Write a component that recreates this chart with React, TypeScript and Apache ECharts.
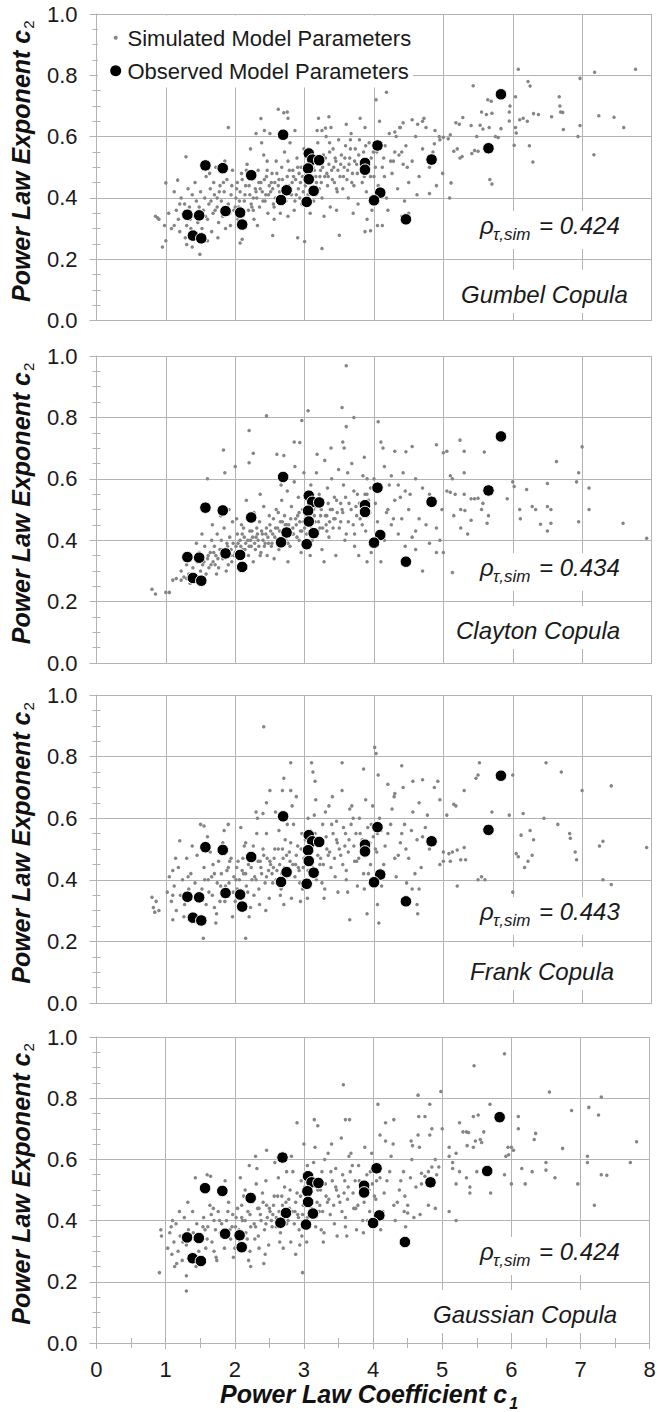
import React, { useEffect, useRef } from 'react';
import * as echarts from 'echarts';

// ---------------- DATA ----------------
const observed: number[][] = [
  [1.31,.345],[1.48,.343],[1.39,.277],[1.51,.268],[1.57,.506],[1.82,.497],[1.86,.357],[2.07,.352],[2.10,.313],[2.23,.474],
  [2.69,.606],[2.74,.425],[2.66,.393],[3.06,.545],[3.11,.525],[3.21,.523],[3.05,.496],[3.06,.461],[3.13,.423],[3.03,.387],
  [4.05,.571],[3.87,.514],[3.87,.492],[4.09,.417],[4.00,.392],[4.46,.330],[4.83,.525],[5.65,.562],[5.83,.738]
];

const simGumbel: number[][] = [
  [6.08,.82],[7.18,.81],[7.77,.82],[6.97,.79],[6.22,.78],[6.25,.765],[5.43,.766],[6.67,.73],[6.68,.70],[6.69,.68],[6.04,.73],[5.64,.72],[5.69,.715],[5.96,.70],[5.95,.68],[4.18,.745],[4.03,.72],[5.55,.68],[5.62,.672],[5.7,.676],[7.24,.668],[7.46,.663],[7.6,.63],[6.3,.675],[6.37,.672],[6.56,.665],[6.72,.679],[6.97,.636],[6.94,.60],[6.73,.623],[7.17,.541],[6.29,.517],[6.24,.57],[6.02,.572],[6.04,.63],[6.05,.612],[6.1,.655],[6.15,.66],[6.21,.65],[5.95,.651],[5.83,.626],[5.28,.662],[5.4,.636],[5.53,.637],[5.18,.645],[5.23,.64],[5.57,.625],[5.66,.63],[5.48,.60],[5.79,.597],[5.75,.60],[5.67,.46],[5.7,.445],[5.45,.555],[5.5,.552],[5.41,.545],[5.2,.56],[5.15,.552],[5.27,.535],[5.24,.53],[5.09,.40],[5.11,.449],[4.99,.48],[4.8,.414],[4.87,.577],[4.94,.60],[5.0,.598],[5.07,.593],[5.1,.606],[4.55,.655],[4.63,.64],[4.7,.65],[4.42,.645],[4.37,.63],[4.3,.615],
  [1.0,.449],[1.17,.458],[1.29,.534],[1.9,.63],[0.85,.34],[0.88,.335],[0.9,.33],[0.95,.24],[1.0,.26],[1.49,.216],[1.38,.24],[1.3,.248],[1.6,.26],[2.07,.253],[2.1,.265],[2.54,.277],[2.9,.27],[3.0,.258],[3.25,.235],[2.62,.689],[2.7,.678],[2.75,.68],[2.76,.66],[2.37,.659],[2.5,.61],[2.3,.61],[2.42,.62],[3.2,.66],[3.35,.665],[3.25,.62],[3.3,.628],[3.5,.278],[3.87,.29],[3.95,.293],[4.05,.31],[4.12,.31],[4.4,.34],[4.5,.35],[1.04,.35],[1.08,.30],[0.98,.31],
  [1.12,.31],[1.15,.36],[1.18,.33],[1.2,.29],[1.22,.40],[1.25,.35],[1.27,.38],[1.3,.31],[1.32,.43],[1.34,.37],[1.36,.30],[1.38,.41],[1.4,.34],[1.42,.45],[1.44,.39],[1.46,.32],[1.48,.37],[1.5,.42],[1.12,.42],[1.2,.38],[1.28,.27],[1.35,.33],
  [1.52,.30],[1.54,.36],[1.56,.40],[1.58,.47],[1.6,.33],[1.62,.38],[1.64,.43],[1.66,.29],[1.68,.35],[1.7,.41],[1.72,.50],[1.74,.37],[1.76,.32],[1.78,.44],[1.8,.39],[1.82,.34],[1.84,.42],[1.86,.30],[1.88,.46],[1.9,.38],[1.92,.35],[1.94,.41],[1.96,.49],[1.98,.36],[1.63,.48],[1.75,.27],[1.85,.52],[1.69,.45],[1.57,.34],[1.93,.31],
  [2.01,.40],[2.03,.45],[2.05,.37],[2.07,.42],[2.09,.48],[2.11,.34],[2.13,.39],[2.15,.44],[2.17,.51],[2.19,.36],[2.21,.41],[2.23,.38],[2.25,.46],[2.27,.33],[2.29,.43],[2.31,.40],[2.33,.49],[2.35,.37],[2.37,.45],[2.39,.42],[2.41,.54],[2.43,.39],[2.45,.47],[2.47,.35],[2.49,.44],[2.12,.30],[2.22,.56],[2.32,.31],[2.38,.58],[2.46,.52],[2.04,.33],[2.26,.40],[2.36,.43],[2.44,.41],[2.18,.47],
  [2.51,.42],[2.53,.48],[2.55,.38],[2.57,.45],[2.59,.52],[2.61,.40],[2.63,.46],[2.65,.35],[2.67,.50],[2.69,.43],[2.71,.55],[2.73,.39],[2.75,.47],[2.77,.44],[2.79,.58],[2.81,.41],[2.83,.49],[2.85,.36],[2.87,.46],[2.89,.53],[2.91,.43],[2.93,.40],[2.95,.50],[2.97,.47],[2.99,.56],[2.56,.33],[2.66,.60],[2.76,.34],[2.86,.62],[2.96,.38],[2.62,.44],[2.72,.42],[2.82,.45],[2.92,.48],
  [3.01,.44],[3.03,.51],[3.05,.41],[3.07,.48],[3.09,.55],[3.11,.46],[3.13,.39],[3.15,.52],[3.17,.45],[3.19,.58],[3.21,.43],[3.23,.49],[3.25,.40],[3.27,.54],[3.29,.47],[3.31,.60],[3.33,.44],[3.35,.51],[3.37,.37],[3.39,.49],[3.41,.56],[3.43,.45],[3.45,.52],[3.47,.42],[3.49,.59],[3.08,.35],[3.18,.62],[3.28,.34],[3.38,.63],[3.46,.36],[3.12,.50],[3.22,.47],[3.32,.48],[3.42,.50],
  [3.51,.47],[3.53,.54],[3.55,.43],[3.57,.50],[3.59,.57],[3.61,.46],[3.63,.40],[3.65,.53],[3.67,.61],[3.69,.48],[3.71,.44],[3.73,.56],[3.75,.51],[3.77,.38],[3.79,.59],[3.81,.49],[3.83,.45],[3.85,.55],[3.87,.63],[3.89,.42],[3.91,.52],[3.93,.58],[3.95,.47],[3.97,.36],[3.99,.55],[3.6,.64],[3.7,.35],[3.8,.66],[3.9,.33],[3.64,.51],
  [4.02,.50],[4.06,.44],[4.1,.58],[4.14,.53],[4.18,.40],[4.22,.61],[4.26,.48],[4.3,.55],[4.34,.43],[4.38,.63],[4.42,.51],[4.46,.57],[4.5,.45],[4.08,.65],[4.2,.36],[4.32,.60],[4.44,.39],[4.15,.47],[4.28,.52],[4.4,.55],
  [4.55,.52],[4.6,.60],[4.65,.47],[4.7,.56],[4.75,.63],[4.8,.50],[4.85,.55],[4.9,.44],[4.95,.59],[4.62,.41],[4.72,.66],[4.88,.62],
  [1.65,.39],[1.71,.36],[1.77,.42],[1.83,.45],[1.89,.35],[1.95,.44],[2.02,.43],[2.06,.39],[2.1,.46],[2.14,.41],[2.2,.44],[2.24,.37],[2.28,.47],[2.3,.42],[2.34,.45],[2.4,.39],[2.42,.46],[2.48,.41],[2.52,.45],[2.54,.43],[2.58,.40],[2.6,.48],[2.64,.42],[2.68,.46],[2.7,.40],[2.74,.44],[2.78,.49],[2.8,.43],[2.84,.47],[2.88,.41],[2.9,.50],[2.94,.45],[2.98,.42],[3.02,.48],[3.04,.45],[3.06,.52],[3.1,.43],[3.14,.49],[3.16,.47],[3.2,.51],[3.24,.45],[3.26,.50],[3.3,.53],[3.34,.47],[3.36,.55],[3.4,.46],[3.44,.53],[3.48,.49],[3.52,.51],[3.56,.47],[3.58,.53],[3.62,.49],[3.66,.56],[3.68,.45],[3.72,.52],[3.76,.48],[3.78,.54],[3.82,.52],[3.86,.47],[3.88,.57],[3.92,.50],[3.96,.53],[4.0,.47],[4.04,.55],[4.12,.50],[4.16,.57],[4.24,.52],[4.36,.54],[4.48,.50],[2.26,.36],[2.56,.37],[2.86,.39],[3.16,.41],[3.46,.43],[1.74,.40],[2.0,.37],[2.16,.49],[2.46,.49],[2.76,.52],[3.06,.56],[3.36,.58],[3.66,.59]
];

const simClayton: number[][] = [
  [0.80,.24],[0.85,.225],[1.0,.23],[1.05,.23],[1.1,.27],[1.15,.275],[1.22,.27],[1.3,.275],[2.45,.805],[2.96,.79],[3.05,.822],[2.2,.757],[1.83,.694],[2.26,.683],[2.2,.652],[2.0,.64],[1.85,.62],[1.6,.60],[2.85,.72],[2.93,.718],[2.6,.68],[2.7,.676],
  [3.6,.968],[3.54,.832],[3.71,.80],[3.6,.77],[4.06,.786],[3.55,.72],[3.57,.70],[4.1,.72],[4.13,.70],[4.3,.69],[4.46,.688],[4.55,.705],[4.9,.711],[5.24,.726],[5.0,.685],[5.05,.69],[5.3,.69],[5.59,.687],[7.0,.704],[6.63,.656],[6.95,.62],[6.92,.59],[6.5,.585],[6.2,.565],[7.1,.57],[7.1,.50],[6.95,.46],[6.55,.455],[6.4,.452],[6.5,.43],[7.59,.455],[7.93,.406],[6.1,.50],[6.11,.47],[6.0,.59],[6.02,.575],[5.92,.535],[6.28,.51],[6.33,.50],[6.5,.51],[6.55,.50],[5.63,.455],[5.65,.48],[5.55,.50],[5.57,.52],[5.4,.535],[5.45,.535],[5.5,.537],[5.3,.62],[5.1,.61],[5.13,.60],[5.05,.56],[5.1,.556],[5.17,.55],[5.3,.55],[5.25,.50],[5.31,.497],[5.4,.465],[5.13,.295],[5.0,.36],[4.9,.36],[4.7,.30],[4.6,.37],[4.1,.33],[3.9,.33],
  [3.9,.55],[4.0,.6],[4.15,.64],[4.25,.61],[4.35,.58],[4.45,.56],[4.6,.6],[4.7,.57],[4.8,.55],[4.85,.52],[4.2,.5],[4.3,.53],[4.4,.47],[4.5,.5],[4.65,.47],[4.75,.45],[4.9,.44],[4.95,.4],[4.35,.42],[4.55,.41],[4.25,.45],[4.05,.46],[4.15,.4],[4.45,.38],[4.6,.43],[4.8,.39],[4.98,.5],[5.15,.48],[5.25,.44],[5.35,.42],
  [1.22,.30],[1.26,.28],[1.3,.32],[1.33,.29],[1.36,.34],[1.39,.31],[1.42,.27],[1.45,.33],[1.48,.36],[1.5,.30],[1.53,.32],[1.56,.38],[1.58,.29],[1.6,.34],[1.35,.26],[1.44,.39],[1.28,.35],[1.52,.42],
  [1.62,.31],[1.64,.36],[1.66,.40],[1.68,.33],[1.7,.38],[1.72,.35],[1.74,.42],[1.76,.31],[1.78,.37],[1.8,.40],[1.82,.34],[1.84,.44],[1.86,.36],[1.88,.39],[1.9,.32],[1.92,.41],[1.94,.37],[1.96,.46],[1.98,.35],[1.67,.45],[1.79,.48],[1.91,.50],[1.73,.29],[1.87,.30],
  [2.01,.38],[2.03,.42],[2.05,.36],[2.07,.40],[2.09,.45],[2.11,.37],[2.13,.41],[2.15,.39],[2.17,.47],[2.19,.35],[2.21,.43],[2.23,.38],[2.25,.41],[2.27,.49],[2.29,.37],[2.31,.44],[2.33,.40],[2.35,.46],[2.37,.36],[2.39,.42],[2.41,.51],[2.43,.39],[2.45,.44],[2.47,.41],[2.49,.48],[2.06,.32],[2.16,.53],[2.26,.33],[2.36,.55],[2.46,.35],[2.12,.44],[2.22,.40],[2.32,.42],[2.42,.38],[2.02,.47],
  [2.51,.43],[2.53,.39],[2.55,.47],[2.57,.41],[2.59,.50],[2.61,.44],[2.63,.37],[2.65,.46],[2.67,.53],[2.69,.42],[2.71,.48],[2.73,.40],[2.75,.56],[2.77,.45],[2.79,.38],[2.81,.51],[2.83,.44],[2.85,.59],[2.87,.47],[2.89,.41],[2.91,.54],[2.93,.46],[2.95,.36],[2.97,.50],[2.99,.62],[2.56,.34],[2.66,.58],[2.76,.33],[2.86,.64],[2.96,.43],[2.62,.49],[2.72,.45],[2.82,.42],[2.92,.49],
  [3.01,.47],[3.03,.42],[3.05,.53],[3.07,.45],[3.09,.58],[3.11,.40],[3.13,.50],[3.15,.46],[3.17,.62],[3.19,.43],[3.21,.55],[3.23,.48],[3.25,.37],[3.27,.52],[3.29,.66],[3.31,.45],[3.33,.57],[3.35,.41],[3.37,.50],[3.39,.60],[3.41,.44],[3.43,.54],[3.45,.35],[3.47,.49],[3.49,.63],[3.08,.35],[3.18,.68],[3.28,.33],[3.38,.70],[3.12,.52],[3.22,.44],[3.32,.48],[3.42,.47],
  [3.52,.46],[3.56,.58],[3.6,.42],[3.64,.52],[3.68,.65],[3.72,.38],[3.76,.55],[3.8,.47],[3.84,.61],[3.88,.43],[3.92,.53],[3.96,.36],[3.54,.50],[3.62,.62],[3.7,.45],[3.78,.35],[3.86,.67],[3.94,.49],[3.58,.40],[3.74,.51],
  [1.55,.33],[1.61,.35],[1.65,.32],[1.69,.36],[1.75,.34],[1.81,.37],[1.85,.35],[1.89,.38],[1.93,.35],[1.97,.39],[2.0,.36],[2.04,.39],[2.08,.38],[2.1,.42],[2.14,.37],[2.18,.40],[2.2,.38],[2.24,.43],[2.28,.39],[2.3,.41],[2.34,.38],[2.38,.43],[2.4,.40],[2.44,.42],[2.48,.39],[2.5,.45],[2.54,.42],[2.58,.44],[2.6,.40],[2.64,.43],[2.68,.46],[2.7,.41],[2.74,.45],[2.78,.43],[2.8,.47],[2.84,.42],[2.88,.45],[2.9,.48],[2.94,.43],[2.98,.46],[3.0,.44],[3.04,.49],[3.06,.46],[3.1,.44],[3.14,.48],[3.16,.51],[3.2,.46],[3.24,.50],[3.26,.44],[3.3,.48],[3.34,.52],[3.36,.46],[3.4,.50],[3.44,.47],[3.46,.53],[3.5,.44],[3.55,.49],[3.59,.54],[3.63,.46],[3.67,.50],[3.71,.56],[3.75,.48],[3.79,.52],[3.83,.45],[3.87,.55],[3.91,.48],[3.95,.57],[1.71,.32],[1.95,.33],[2.12,.35],[2.36,.35],[2.52,.38],[2.76,.39],[2.92,.40],[3.12,.42],[3.32,.43],[3.52,.52],[3.72,.42],[3.9,.60],[4.02,.52],[4.08,.56],[4.18,.49],[4.22,.58],[4.28,.47],[4.38,.54],[4.42,.62],[4.52,.55]
];

const simFrank: number[][] = [
  [0.8,.343],[0.82,.31],[0.86,.33],[0.9,.30],[0.84,.295],[1.1,.27],[1.2,.527],[1.5,.58],[1.55,.575],[1.1,.43],[1.54,.21],[2.15,.21],[2.41,.897],[2.8,.78],[3.1,.78],[3.12,.75],[3.15,.72],[2.7,.73],[2.68,.69],[2.5,.69],[2.45,.65],[2.8,.69],[2.88,.67],[2.3,.62],[2.4,.615],[1.9,.58],
  [4.01,.83],[4.03,.81],[3.54,.78],[5.52,.78],[6.48,.78],[6.7,.75],[7.42,.705],[7.0,.69],[4.4,.77],[3.85,.76],[4.06,.74],[4.2,.71],[4.3,.68],[4.42,.70],[4.56,.72],[4.7,.725],[4.92,.72],[4.87,.70],[4.95,.66],[5.05,.61],[5.15,.645],[5.18,.64],[5.3,.69],[5.5,.74],[5.47,.73],[6.0,.74],[5.7,.62],[5.95,.61],[6.15,.615],[6.45,.60],[6.65,.58],[6.82,.55],[6.83,.535],[6.25,.56],[6.3,.53],[6.12,.545],[6.05,.485],[6.08,.475],[6.17,.44],[6.22,.46],[6.28,.48],[6.9,.49],[6.92,.465],[7.25,.51],[7.3,.525],[7.3,.40],[7.42,.385],[7.93,.505],[6.0,.36],[5.5,.40],[5.55,.41],[5.6,.40],[5.2,.38],[5.0,.49],[5.08,.485],[5.13,.49],[5.2,.497],[5.3,.505],[4.95,.45],[5.0,.46],[5.1,.46],[5.25,.465],[5.32,.465],[4.65,.37],[4.55,.37],[4.52,.33],[4.62,.32],[4.63,.29],[4.07,.26],[3.9,.29],[3.65,.27],[4.05,.32],
  [1.02,.36],[1.05,.41],[1.08,.33],[1.12,.38],[1.15,.30],[1.18,.44],[1.21,.35],[1.24,.40],[1.27,.32],[1.3,.47],[1.33,.37],[1.36,.42],[1.39,.29],[1.42,.39],[1.45,.48],[1.48,.34],[1.14,.47],[1.26,.28],[1.38,.51],[1.46,.26],[1.1,.35],[1.32,.41],
  [1.52,.37],[1.55,.44],[1.58,.32],[1.61,.40],[1.64,.49],[1.67,.35],[1.7,.42],[1.73,.29],[1.76,.46],[1.79,.38],[1.82,.52],[1.85,.33],[1.88,.43],[1.91,.39],[1.94,.47],[1.97,.36],[1.6,.54],[1.72,.26],[1.84,.56],[1.96,.28],[1.66,.41],[1.78,.33],[1.9,.44],
  [2.01,.40],[2.04,.46],[2.07,.35],[2.1,.43],[2.13,.51],[2.16,.38],[2.19,.45],[2.22,.31],[2.25,.48],[2.28,.41],[2.31,.55],[2.34,.37],[2.37,.44],[2.4,.50],[2.43,.39],[2.46,.47],[2.49,.34],[2.08,.57],[2.2,.28],[2.32,.60],[2.44,.30],[2.12,.42],[2.24,.40],[2.36,.46],[2.48,.43],[2.03,.37],[2.27,.35],
  [2.51,.45],[2.54,.39],[2.57,.50],[2.6,.43],[2.63,.56],[2.66,.37],[2.69,.47],[2.72,.53],[2.75,.41],[2.78,.49],[2.81,.34],[2.84,.58],[2.87,.45],[2.9,.51],[2.93,.39],[2.96,.55],[2.99,.47],[2.58,.62],[2.7,.32],[2.82,.64],[2.94,.33],[2.55,.44],[2.67,.42],[2.79,.46],[2.91,.44],[2.62,.50],[2.86,.41],
  [3.02,.49],[3.05,.43],[3.08,.56],[3.11,.46],[3.14,.61],[3.17,.40],[3.2,.52],[3.23,.47],[3.26,.58],[3.29,.37],[3.32,.50],[3.35,.64],[3.38,.44],[3.41,.55],[3.44,.41],[3.47,.52],[3.04,.34],[3.16,.66],[3.28,.34],[3.4,.67],[3.48,.36],[3.1,.51],[3.22,.45],[3.34,.48],[3.46,.59],
  [3.52,.48],[3.56,.57],[3.6,.43],[3.64,.53],[3.68,.64],[3.72,.46],[3.76,.38],[3.8,.55],[3.84,.50],[3.88,.66],[3.92,.42],[3.96,.58],[3.54,.69],[3.62,.36],[3.7,.60],[3.78,.47],[3.86,.37],[3.94,.52],[3.58,.51],[3.74,.55],
  [4.02,.50],[4.08,.60],[4.14,.45],[4.2,.55],[4.26,.63],[4.32,.41],[4.38,.52],[4.44,.58],[4.5,.47],[4.56,.62],[4.62,.53],[4.68,.44],[4.74,.57],[4.8,.50],[4.11,.38],[4.29,.67],[4.47,.39],[4.65,.65],[4.05,.55],[4.35,.48],[4.59,.42],[4.77,.61],
  [1.56,.40],[1.62,.36],[1.68,.45],[1.74,.39],[1.8,.42],[1.86,.38],[1.92,.46],[1.98,.41],[2.02,.44],[2.06,.40],[2.11,.47],[2.15,.42],[2.18,.36],[2.23,.44],[2.26,.51],[2.3,.40],[2.33,.46],[2.38,.42],[2.41,.48],[2.45,.41],[2.5,.46],[2.53,.42],[2.56,.47],[2.59,.40],[2.64,.45],[2.68,.50],[2.71,.44],[2.74,.48],[2.77,.42],[2.8,.52],[2.83,.45],[2.88,.48],[2.92,.43],[2.95,.50],[2.98,.44],[3.01,.53],[3.04,.47],[3.07,.50],[3.12,.44],[3.15,.55],[3.19,.48],[3.24,.52],[3.27,.45],[3.31,.54],[3.36,.49],[3.39,.58],[3.43,.47],[3.46,.53],[3.5,.50],[3.55,.45],[3.59,.55],[3.63,.49],[3.67,.58],[3.71,.51],[3.75,.46],[3.79,.60],[3.83,.53],[3.87,.48],[3.91,.57],[3.95,.45],[3.99,.54],[4.04,.49],[4.1,.56],[4.16,.51],[4.24,.58],[4.3,.47],[4.4,.55],[4.46,.50],[4.54,.56],[4.7,.54],[1.7,.31],[2.0,.33],[2.35,.32],[2.65,.35],[2.97,.37],[3.25,.39],[3.6,.40],[3.85,.42],[2.15,.52],[2.45,.55],[2.75,.58],[3.05,.60],[3.3,.62],[3.65,.63],[3.98,.64]
];

const simGaussian: number[][] = [
  [0.91,.23],[0.93,.37],[0.94,.35],[1.3,.17],[1.13,.25],[1.3,.22],[1.08,.38],[1.2,.43],[1.43,.54],[1.6,.55],[1.65,.545],[2.21,.58],[2.3,.61],[2.46,.63],[2.9,.72],[3.0,.65],[3.15,.73],[3.2,.71],[2.98,.23],[2.42,.26],[2.23,.25],[2.88,.29],
  [5.9,.945],[5.46,.906],[3.57,.844],[4.98,.822],[4.65,.81],[6.55,.82],[7.3,.804],[4.07,.78],[4.82,.78],[5.69,.78],[6.87,.76],[7.12,.77],[7.26,.745],[7.81,.658],[6.1,.74],[6.1,.70],[6.35,.685],[6.33,.665],[6.74,.636],[7.1,.61],[7.1,.59],[7.72,.59],[7.3,.55],[7.38,.548],[6.96,.52],[7.2,.45],[6.63,.54],[6.5,.59],[6.5,.565],[6.3,.56],[6.2,.52],[6.15,.57],[6.0,.52],[5.9,.55],[5.92,.61],[5.96,.615],[6.03,.63],[6.0,.64],[5.95,.64],[5.25,.72],[5.45,.74],[5.52,.745],[5.3,.69],[5.35,.69],[5.38,.688],[5.6,.69],[5.55,.665],[5.57,.655],[5.48,.66],[5.36,.645],[5.45,.64],[5.0,.70],[4.85,.70],[4.82,.68],[4.75,.74],[4.66,.74],[4.65,.68],[4.67,.64],[4.55,.66],[4.57,.645],[4.3,.73],[4.18,.72],[4.1,.68],[4.18,.66],[3.6,.73],[3.66,.73],[5.1,.64],[5.1,.61],[5.2,.62],[5.15,.59],[5.15,.57],[5.25,.56],[5.2,.52],[5.4,.51],[5.4,.49],[5.35,.54],[5.5,.56],[5.7,.49],[5.1,.43],[5.2,.40],[4.9,.44],[4.8,.45],[4.92,.55],[4.95,.575],[4.9,.6],[4.7,.555],[4.75,.545],[4.8,.56],[4.85,.575],[4.45,.43],[4.5,.425],
  [1.03,.31],[1.06,.36],[1.09,.29],[1.12,.33],[1.15,.39],[1.18,.30],[1.21,.35],[1.24,.27],[1.27,.41],[1.3,.32],[1.33,.37],[1.36,.28],[1.39,.43],[1.42,.34],[1.45,.39],[1.48,.30],[1.16,.26],[1.32,.46],[1.44,.25],[1.1,.40],[1.25,.33],[1.4,.36],
  [1.52,.35],[1.55,.41],[1.58,.31],[1.61,.38],[1.64,.45],[1.67,.33],[1.7,.40],[1.73,.28],[1.76,.43],[1.79,.36],[1.82,.49],[1.85,.31],[1.88,.40],[1.91,.46],[1.94,.34],[1.97,.42],[1.62,.51],[1.74,.27],[1.86,.53],[1.98,.28],[1.57,.37],[1.69,.44],[1.81,.39],[1.93,.37],
  [2.01,.38],[2.04,.44],[2.07,.33],[2.1,.41],[2.13,.48],[2.16,.36],[2.19,.43],[2.22,.30],[2.25,.46],[2.28,.39],[2.31,.52],[2.34,.35],[2.37,.42],[2.4,.49],[2.43,.37],[2.46,.45],[2.49,.32],[2.08,.54],[2.2,.27],[2.32,.57],[2.44,.29],[2.11,.40],[2.23,.38],[2.35,.44],[2.47,.41],[2.05,.36],[2.29,.34],
  [2.51,.43],[2.54,.38],[2.57,.48],[2.6,.41],[2.63,.54],[2.66,.36],[2.69,.45],[2.72,.51],[2.75,.39],[2.78,.47],[2.81,.33],[2.84,.56],[2.87,.43],[2.9,.49],[2.93,.37],[2.96,.53],[2.99,.45],[2.58,.59],[2.7,.31],[2.82,.61],[2.94,.32],[2.55,.42],[2.67,.40],[2.79,.44],[2.91,.42],[2.62,.48],[2.86,.39],
  [3.02,.47],[3.05,.41],[3.08,.54],[3.11,.44],[3.14,.59],[3.17,.38],[3.2,.50],[3.23,.45],[3.26,.56],[3.29,.36],[3.32,.48],[3.35,.62],[3.38,.42],[3.41,.53],[3.44,.39],[3.47,.50],[3.04,.33],[3.16,.64],[3.28,.33],[3.4,.65],[3.48,.35],[3.1,.49],[3.22,.43],[3.34,.46],[3.46,.57],
  [3.52,.46],[3.56,.55],[3.6,.41],[3.64,.51],[3.68,.62],[3.72,.44],[3.76,.37],[3.8,.53],[3.84,.48],[3.88,.64],[3.92,.40],[3.96,.56],[3.54,.67],[3.62,.35],[3.7,.58],[3.78,.45],[3.86,.36],[3.94,.50],[3.58,.49],[3.74,.53],
  [4.02,.48],[4.08,.58],[4.14,.43],[4.2,.53],[4.26,.61],[4.32,.40],[4.38,.50],[4.44,.56],[4.5,.45],[4.56,.60],[4.62,.51],[4.68,.42],[4.11,.37],[4.29,.65],[4.47,.38],[4.05,.53],[4.35,.46],[4.59,.41],
  [1.54,.38],[1.6,.34],[1.66,.42],[1.72,.37],[1.78,.40],[1.84,.35],[1.9,.43],[1.96,.38],[2.02,.41],[2.06,.37],[2.1,.45],[2.15,.40],[2.18,.34],[2.22,.42],[2.26,.48],[2.3,.38],[2.33,.44],[2.38,.40],[2.41,.46],[2.45,.39],[2.5,.44],[2.53,.40],[2.56,.45],[2.6,.38],[2.64,.43],[2.68,.48],[2.71,.42],[2.74,.46],[2.77,.40],[2.8,.50],[2.83,.43],[2.88,.46],[2.92,.41],[2.95,.48],[2.98,.42],[3.01,.51],[3.04,.45],[3.07,.48],[3.12,.42],[3.15,.53],[3.19,.46],[3.24,.50],[3.27,.43],[3.31,.52],[3.36,.47],[3.39,.56],[3.43,.45],[3.46,.51],[3.5,.48],[3.55,.43],[3.59,.53],[3.63,.47],[3.67,.56],[3.71,.49],[3.75,.44],[3.79,.58],[3.83,.51],[3.87,.46],[3.91,.55],[3.95,.43],[3.99,.52],[4.04,.47],[4.1,.54],[4.16,.49],[4.24,.56],[4.3,.45],[4.4,.53],[4.46,.48],[4.54,.54],[4.7,.52],[1.7,.30],[2.0,.31],[2.35,.31],[2.65,.33],[2.97,.35],[3.25,.37],[3.6,.38],[3.85,.40],[2.15,.50],[2.45,.53],[2.75,.56],[3.05,.58],[3.3,.60],[3.65,.61],[3.98,.62]
];

const copulaNames = ['Gumbel Copula', 'Clayton Copula', 'Frank Copula', 'Gaussian Copula'];
const rhoValues = ['0.424', '0.434', '0.443', '0.424'];
const simSets = [simGumbel, simClayton, simFrank, simGaussian];
const legendLabels = ['Simulated Model Parameters', 'Observed Model Parameters'];
const yTitle = 'Power Law Exponent c';
const xTitle = 'Power Law Coefficient c';

// ---------------- LAYOUT / STYLE ----------------
const FONT = '"Liberation Sans", Arial, Helvetica, sans-serif';
const LINE = '#b3b3b3';
const TXT = '#1a1a1a';
const GRAY = '#858585';

const PANELS = [
  { left: 96.5, top: 14, width: 555, height: 306.5, rhoBase: 233, copBase: 302, copLeft: 461, copRight: 631 },
  { left: 96.5, top: 356, width: 555, height: 307, rhoBase: 575, copBase: 638, copLeft: 456, copRight: 627 },
  { left: 96.5, top: 695, width: 555, height: 308, rhoBase: 919, copBase: 979, copLeft: 470, copRight: 619 },
  { left: 95, top: 1037, width: 554.7, height: 308, rhoBase: 1259, copBase: 1322, copLeft: 433, copRight: 625 },
];

function buildOption() {
  const grid = PANELS.map(p => ({ left: p.left, top: p.top, width: p.width, height: p.height, containLabel: false }));
  const lineStyle = { color: LINE, width: 1 };

  const xAxis: any[] = PANELS.map((_, i) => ({
    type: 'value', gridIndex: i, min: 0, max: 8, interval: 1, position: 'bottom',
    axisLine: { show: true, onZero: false, lineStyle },
    splitLine: { show: true, lineStyle },
    axisTick: { show: i === 3, length: 6, lineStyle },
    minorTick: { show: i === 3, splitNumber: 2, length: 5, lineStyle },
    axisLabel: { show: i === 3, fontSize: 22, color: TXT, fontFamily: FONT, margin: 15 },
    name: i === 3 ? `{t|${xTitle}}{s|1}` : '',
    nameLocation: 'middle', nameGap: 38,
    nameTextStyle: {
      padding: [0, 8, 0, 0],
      rich: {
        t: { fontSize: 25, fontWeight: 'bold', fontStyle: 'italic', fontFamily: FONT, color: '#111', lineHeight: 26, verticalAlign: 'top' },
        s: { fontSize: 16, fontWeight: 'bold', fontStyle: 'italic', fontFamily: FONT, color: '#111', lineHeight: 16, padding: [14, 0, 0, 2], verticalAlign: 'top' },
      },
    },
  }));
  xAxis.push({
    type: 'value', gridIndex: 3, min: 0, max: 8, interval: 1, position: 'bottom',
    axisLine: { show: false }, splitLine: { show: false }, axisLabel: { show: false },
    axisTick: { show: false, inside: true },
    minorTick: { show: true, splitNumber: 2, length: 5, lineStyle },
  });

  const yAxis: any[] = PANELS.map((_, i) => ({
    type: 'value', gridIndex: i, min: 0, max: 1, interval: 0.2, position: 'left',
    axisLine: { show: true, onZero: false, lineStyle },
    splitLine: { show: true, lineStyle },
    axisTick: { show: true, length: 7, lineStyle },
    minorTick: { show: true, splitNumber: 4, length: 4, lineStyle },
    axisLabel: { fontSize: 22, color: TXT, fontFamily: FONT, margin: 19, formatter: (v: number) => v.toFixed(1) },
    name: `{t|${yTitle}}{s|2}`,
    nameLocation: 'middle', nameGap: 56, nameRotate: 90,
    nameTextStyle: {
      padding: [0, 0, 0, 12],
      rich: {
        t: { fontSize: 25, fontWeight: 'bold', fontStyle: 'italic', fontFamily: FONT, color: '#111', lineHeight: 25, verticalAlign: 'top' },
        s: { fontSize: 15, fontWeight: 'normal', fontStyle: 'normal', fontFamily: FONT, color: '#111', lineHeight: 15, padding: [13, 0, 0, 1], verticalAlign: 'top' },
      },
    },
  }));
  PANELS.forEach((_, i) => yAxis.push({
    type: 'value', gridIndex: i, min: 0, max: 1, interval: 0.2, position: 'left',
    axisLine: { show: false }, splitLine: { show: false }, axisLabel: { show: false },
    axisTick: { show: false, inside: true },
    minorTick: { show: true, splitNumber: 4, length: 4, lineStyle },
  }));

  const series: any[] = [];
  simSets.forEach((sim, i) => {
    series.push({
      type: 'scatter', name: legendLabels[0], xAxisIndex: i, yAxisIndex: i, data: sim,
      symbol: 'circle', symbolSize: 3.5, itemStyle: { color: GRAY, opacity: 1 }, z: 2, silent: true,
    });
    series.push({
      type: 'scatter', name: legendLabels[1], xAxisIndex: i, yAxisIndex: i, data: observed,
      symbol: 'circle', symbolSize: 11.5, itemStyle: { color: '#000', borderColor: '#fff', borderWidth: 1, opacity: 1 }, z: 3, silent: true,
    });
  });

  const txt = (text: string, x: number, cy: number, size: number, italic: boolean) => ({
    type: 'text', x, y: cy, z: 11, silent: true,
    style: {
      text, fill: TXT, fontSize: size, fontFamily: FONT, fontStyle: italic ? 'italic' : 'normal',
      align: 'left', textAlign: 'left', verticalAlign: 'middle', textVerticalAlign: 'middle',
    },
  });
  const rect = (x: number, y: number, w: number, h: number) => ({
    type: 'rect', z: 10, silent: true, shape: { x, y, width: w, height: h }, style: { fill: '#fff' },
  });

  const graphic: any[] = [];
  graphic.push(rect(98, 15.5, 315, 72));
  graphic.push({ type: 'circle', z: 11, silent: true, shape: { cx: 115.7, cy: 37.7, r: 2 }, style: { fill: GRAY } });
  graphic.push({ type: 'circle', z: 11, silent: true, shape: { cx: 115.7, cy: 70.7, r: 5.5 }, style: { fill: '#000' } });
  graphic.push(txt(legendLabels[0], 127.5, 38.5, 22, false));
  graphic.push(txt(legendLabels[1], 127.5, 71.5, 22, false));

  PANELS.forEach((p, i) => {
    const b = p.rhoBase;
    graphic.push(rect(476, b - 22, 154, 38));
    graphic.push(txt('ρ', 480, b - 7.4, 24, true));
    graphic.push(txt('τ,sim', 493, b + 1.7, 17, true));
    graphic.push(txt('= ' + rhoValues[i], 539, b - 7.4, 24, true));
    const c = p.copBase;
    graphic.push(rect(p.copLeft - 4, c - 32, p.copRight - p.copLeft + 9, 43));
    graphic.push(txt(copulaNames[i], p.copLeft, c - 7.4, 24, true));
  });

  return {
    animation: false,
    backgroundColor: '#fff',
    grid, xAxis, yAxis, series, graphic,
  };
}

export default function App() {
  const ref = useRef<HTMLDivElement>(null);
  useEffect(() => {
    if (!ref.current) return;
    const chart = echarts.init(ref.current, undefined, { renderer: 'svg' });
    chart.setOption(buildOption() as any);
    return () => chart.dispose();
  }, []);
  return (
    <div
      ref={ref}
      style={{ position: 'absolute', left: 0, top: 0, width: 666, height: 1412, background: '#fff' }}
    />
  );
}
